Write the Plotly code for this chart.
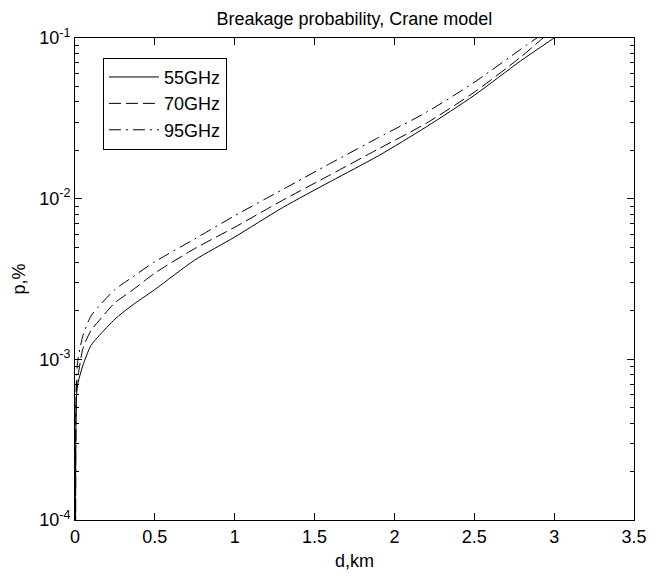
import plotly.graph_objects as go

# distance (km)
d_km = [0.005, 0.01, 0.02, 0.05, 0.1, 0.15, 0.25, 0.35, 0.5, 0.75, 1.0, 1.3, 1.6, 1.9, 2.2, 2.5, 2.79, 3.0]
# breakage probability (%)
p_55 = [1e-5, 6.0e-4, 7.2e-4, 9.2e-4, 1.22e-3, 1.4e-3, 1.78e-3, 2.14e-3, 2.72e-3, 4.15e-3,
        5.77e-3, 8.8e-3, 1.28e-2, 1.85e-2, 2.8e-2, 4.4e-2, 7.2e-2, 1.0e-1]
p_70 = [1e-5, 7.0e-4, 8.0e-4, 1.17e-3, 1.51e-3, 1.74e-3, 2.25e-3, 2.65e-3, 3.44e-3, 4.89e-3,
        6.64e-3, 9.77e-3, 1.41e-2, 2.04e-2, 2.95e-2, 4.6e-2, 7.6e-2, 1.15e-1]
p_95 = [1e-5, 8.0e-4, 1.02e-3, 1.41e-3, 1.86e-3, 2.14e-3, 2.72e-3, 3.2e-3, 4.05e-3, 5.62e-3,
        7.83e-3, 1.14e-2, 1.66e-2, 2.4e-2, 3.45e-2, 5.3e-2, 8.5e-2, 1.19e-1]
series_names = ["55GHz", "70GHz", "95GHz"]

x_ticks = [0, 0.5, 1, 1.5, 2, 2.5, 3, 3.5]
x_ticktext = ["0", "0.5", "1", "1.5", "2", "2.5", "3", "3.5"]
y_ticks = [1e-4, 1e-3, 1e-2, 1e-1]
y_ticktext = ["10<sup>-4</sup>", "10<sup>-3</sup>", "10<sup>-2</sup>", "10<sup>-1</sup>"]
y_minor = [m * 10.0 ** e for e in (-4, -3, -2) for m in range(2, 10)]

FONT = "Liberation Sans Narrow, Arial Narrow, Liberation Sans, Arial, sans-serif"
styles = ["solid", "12px,5px", "12px,5px,2px,5px"]

fig = go.Figure()
for name, vals, dash in zip(series_names, [p_55, p_70, p_95], styles):
    fig.add_trace(go.Scatter(
        x=d_km, y=vals, mode="lines", name=name,
        line=dict(color="black", width=1, dash=dash, shape="spline", smoothing=0.7),
    ))

axis_common = dict(
    showline=True, linecolor="black", linewidth=1, mirror="ticks",
    ticks="inside", ticklen=7, tickcolor="black", tickwidth=1,
    showgrid=False, zeroline=False,
    tickfont=dict(family=FONT, size=18, color="black"),
)

fig.update_xaxes(
    range=[0, 3.5], tickvals=x_ticks, ticktext=x_ticktext,
    title=dict(text="d,km", font=dict(family=FONT, size=18, color="black"), standoff=8),
    **axis_common,
)
fig.update_yaxes(
    type="log", range=[-4, -1], tickvals=y_ticks, ticktext=y_ticktext,
    minor=dict(tickmode="array", tickvals=y_minor, ticks="inside", ticklen=4,
               tickcolor="black", tickwidth=1, showgrid=False),
    title=dict(text="p,%", font=dict(family=FONT, size=18, color="black"), standoff=8),
    **axis_common,
)

fig.update_layout(
    width=661, height=579,
    margin=dict(l=75, r=27, t=38, b=52),
    paper_bgcolor="white", plot_bgcolor="white",
    font=dict(family=FONT, size=18, color="black"),
    title=dict(text="Breakage probability, Crane model", x=0.536, xanchor="center",
               y=0.968, yanchor="middle", yref="container",
               font=dict(family=FONT, size=18, color="black")),
    legend=dict(x=0.05, y=0.959, xanchor="left", yanchor="top",
                bordercolor="black", borderwidth=1, bgcolor="white",
                font=dict(family=FONT, size=18, color="black"),
                tracegroupgap=0, itemwidth=50),
    showlegend=True,
)

fig.write_html("out.html")
